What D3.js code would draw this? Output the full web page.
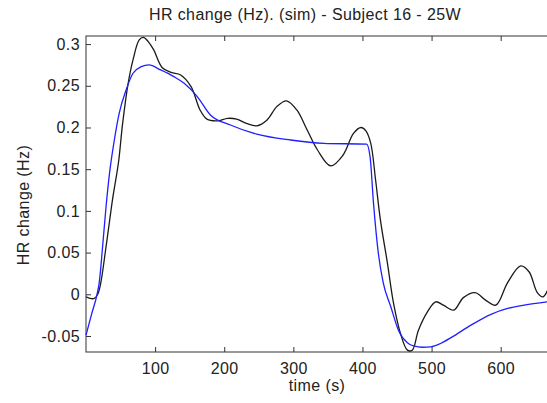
<!DOCTYPE html>
<html>
<head>
<meta charset="utf-8">
<script src="https://cdn.jsdelivr.net/npm/d3@7"></script>
<style>
  body { margin: 0; background: #fff; }
  text { font-family: "Liberation Sans", Arial, sans-serif; fill: #222; letter-spacing: 0.4px; }
</style>
</head>
<body>
<div id="chart"></div>
<script>
// measured (smoothed) HR change
const timeObs = [0, 6, 12, 17, 21, 29, 39, 47, 53, 61, 68, 77, 83, 90, 98, 110, 123, 137, 152, 165, 175, 190, 205, 218, 232, 247, 262, 276, 290, 305, 320, 335, 354, 372, 387, 398, 405, 412, 419, 426, 436, 445, 455, 465, 472, 481, 494, 506, 517, 532, 546, 563, 578, 593, 610, 629, 641, 653, 661, 668];
const hrObs = [-0.003, -0.005, -0.005, 0.0, 0.012, 0.057, 0.117, 0.158, 0.205, 0.253, 0.281, 0.305, 0.308, 0.303, 0.293, 0.272, 0.266, 0.263, 0.249, 0.221, 0.21, 0.208, 0.211, 0.21, 0.205, 0.202, 0.209, 0.225, 0.232, 0.221, 0.197, 0.173, 0.154, 0.167, 0.193, 0.2, 0.196, 0.181, 0.137, 0.089, 0.038, -0.011, -0.047, -0.067, -0.067, -0.043, -0.021, -0.009, -0.013, -0.019, -0.004, 0.002, -0.007, -0.013, 0.014, 0.034, 0.027, 0.002, -0.003, 0.005];

// simulated HR change
const timeSim = [0, 8, 16, 19, 24, 29, 34, 41, 48, 58, 68, 80, 91, 108, 127, 142, 161, 180, 209, 247, 296, 344, 406, 411, 416, 423, 430, 441, 452, 465, 474, 487, 499, 513, 530, 557, 586, 610, 634, 668];
const hrSim = [-0.049, -0.024, 0.0, 0.013, 0.057, 0.105, 0.145, 0.185, 0.217, 0.245, 0.265, 0.273, 0.275, 0.269, 0.261, 0.253, 0.237, 0.215, 0.203, 0.192, 0.185, 0.181, 0.18, 0.165, 0.109, 0.049, 0.014, -0.015, -0.043, -0.058, -0.062, -0.0635, -0.063, -0.059, -0.051, -0.037, -0.024, -0.017, -0.013, -0.009];

const xTicks = [100, 200, 300, 400, 500, 600];
const yTicks = [-0.05, 0, 0.05, 0.1, 0.15, 0.2, 0.25, 0.3];

const width = 547, height = 403;
const margin = { top: 36, right: 0, bottom: 51, left: 86 };

const svg = d3.select("#chart").append("svg")
    .attr("width", width)
    .attr("height", height);

const x = d3.scaleLinear().domain([0, 667]).range([margin.left, width - margin.right]);
const y = d3.scaleLinear().domain([-0.0692, 0.3097]).range([height - margin.bottom, margin.top]);

// plain hyphen for negatives, like the original
const tickFmt = d => String(+d.toFixed(2));

// axes box
svg.append("rect")
    .attr("x", margin.left)
    .attr("y", margin.top)
    .attr("width", width - margin.right - margin.left + 2)
    .attr("height", height - margin.bottom - margin.top)
    .attr("fill", "none")
    .attr("stroke", "#333")
    .attr("stroke-width", 1);

// bottom axis (ticks point inward)
const xAxis = svg.append("g")
    .attr("transform", `translate(0, ${height - margin.bottom})`)
    .call(d3.axisBottom(x).tickValues(xTicks).tickSize(-5).tickPadding(11).tickFormat(d3.format("d")));
// top axis, ticks only
const xTop = svg.append("g")
    .attr("transform", `translate(0, ${margin.top})`)
    .call(d3.axisTop(x).tickValues(xTicks).tickSize(-5).tickFormat(""));
// left axis
const yAxis = svg.append("g")
    .attr("transform", `translate(${margin.left}, 0)`)
    .call(d3.axisLeft(y).tickValues(yTicks).tickSize(-5).tickPadding(6).tickFormat(tickFmt));

[xAxis, xTop, yAxis].forEach(g => {
    g.select(".domain").remove();
    g.selectAll(".tick line").attr("stroke", "#333");
    g.selectAll("text").style("font-size", "16px").attr("fill", "#222");
});

// lines
const obsLine = d3.line()
    .x((d, i) => x(timeObs[i]))
    .y(d => y(d))
    .curve(d3.curveCatmullRom.alpha(0.5));

const simLine = d3.line()
    .x((d, i) => x(timeSim[i]))
    .y(d => y(d))
    .curve(d3.curveMonotoneX);

svg.append("path")
    .attr("d", obsLine(hrObs))
    .attr("fill", "none")
    .attr("stroke", "#1a1a1a")
    .attr("stroke-width", 1.3);

svg.append("path")
    .attr("d", simLine(hrSim))
    .attr("fill", "none")
    .attr("stroke", "#1f1fff")
    .attr("stroke-width", 1.3);

// title and labels
svg.append("text")
    .attr("x", 305)
    .attr("y", 20)
    .attr("text-anchor", "middle")
    .style("font-size", "16px")
    .text("HR change (Hz). (sim) - Subject 16 - 25W");

svg.append("text")
    .attr("x", 317)
    .attr("y", 391)
    .attr("text-anchor", "middle")
    .style("font-size", "16px")
    .text("time (s)");

svg.append("text")
    .attr("transform", "translate(29, 205) rotate(-90)")
    .attr("text-anchor", "middle")
    .style("font-size", "16px")
    .text("HR change (Hz)");
</script>
</body>
</html>
